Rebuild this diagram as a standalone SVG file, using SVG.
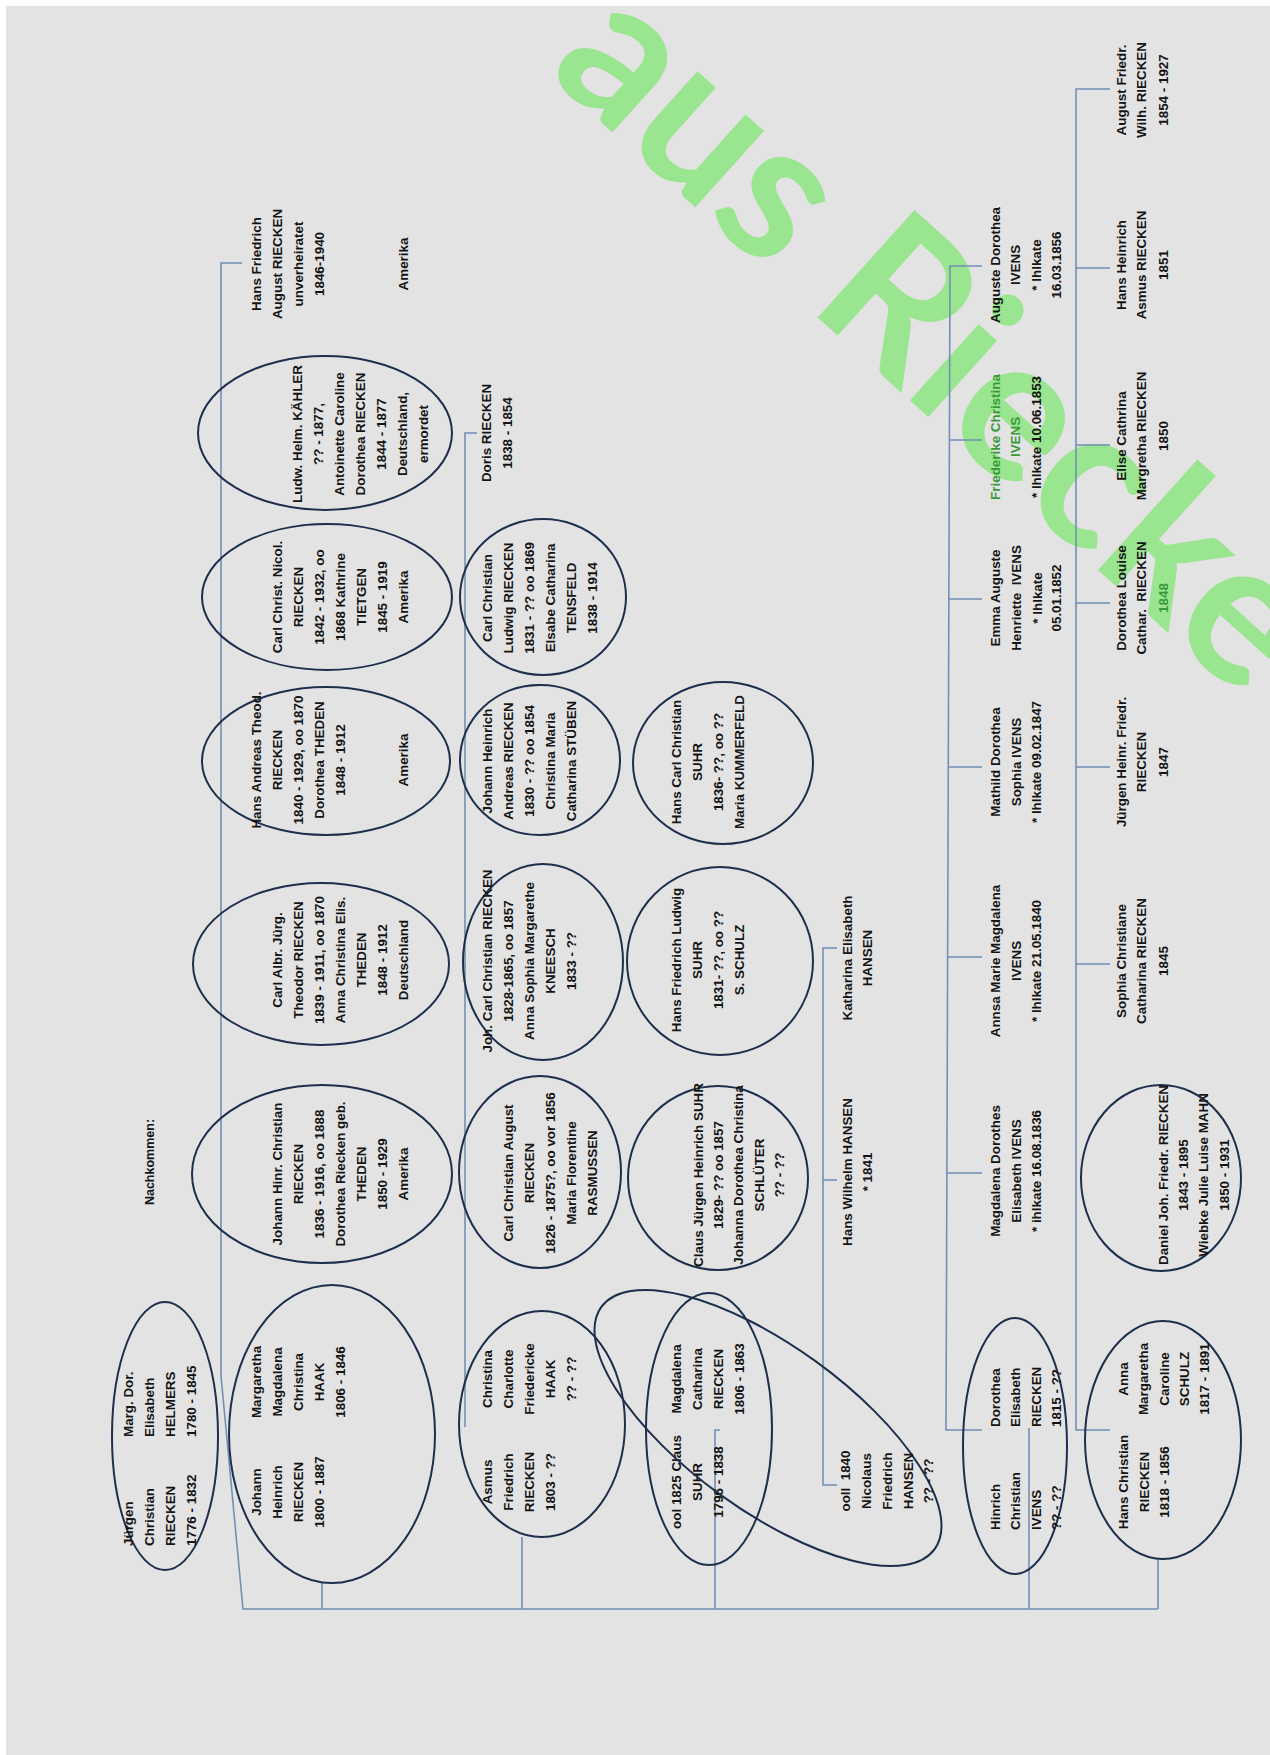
<svg xmlns="http://www.w3.org/2000/svg" width="1270" height="1755" viewBox="0 0 1270 1755">
<style>
.t{font-family:"Liberation Sans",Arial,sans-serif;font-weight:bold;font-size:13.4px;fill:#141414;text-anchor:middle}
.s{text-anchor:start}
.e{fill:none;stroke:#1d2f4d;stroke-width:2}
.c{fill:none;stroke:#7290b5;stroke-width:1.6}
.gr{fill:#3a9a3a}
.wm{font-family:Lato,"Open Sans",sans-serif;font-weight:bold;font-size:200px;fill:#9ae58f}
</style>
<rect x="0" y="0" width="1270" height="1755" fill="#ffffff"/>
<rect x="6" y="6" width="1264" height="1749" fill="#e3e3e3"/>
<text class="wm" transform="translate(545,72) rotate(42)">aus Riecke</text>

<g id="connectors">
<path class="c" d="M242,263 H221 V1376 L243,1609 H1158"/>
<path class="c" d="M322,1583 V1609"/>
<path class="c" d="M477,433 H465 V1427"/>
<path class="c" d="M522,1537 V1609"/>
<path class="c" d="M720,1430 H715 V1609"/>
<path class="c" d="M837,948 H823 V1485 H837 M823,1180 H837"/>
<path class="c" d="M982,266 H950 L946,1430 H982 M949,440 H982 M948,599 H982 M948,767 H982 M947,957 H982 M947,1173 H982"/>
<path class="c" d="M1029,1428 V1609"/>
<path class="c" d="M1110,89 H1076 V1430 H1110 M1076,268 H1110 M1076,445 H1110 M1076,603 H1110 M1076,767 H1110 M1076,964 H1110"/>
<path class="c" d="M1158,1558 V1609"/>
</g>

<g id="title"><text class="t" style="font-size:12.5px" transform="translate(0,1162) rotate(-90)"><tspan x="0" y="154">Nachkommen:</tspan></text></g>

<g id="n-juergen">
<ellipse class="e" cx="165" cy="1436" rx="53" ry="134"/>
<text class="t s" transform="translate(0,1546) rotate(-90)"><tspan x="0" y="133">Jürgen</tspan><tspan x="0" y="154">Christian</tspan><tspan x="0" y="175">RIECKEN</tspan><tspan x="0" y="196">1776 - 1832</tspan></text>
<text class="t s" transform="translate(0,1437) rotate(-90)"><tspan x="0" y="133">Marg. Dor.</tspan><tspan x="0" y="154">Elisabeth</tspan><tspan x="0" y="175">HELMERS</tspan><tspan x="0" y="196">1780 - 1845</tspan></text>
</g>

<g id="n-johann-heinrich">
<ellipse class="e" cx="332" cy="1434" rx="103" ry="149"/>
<text class="t" transform="translate(0,1492) rotate(-90)"><tspan x="0" y="261">Johann</tspan><tspan x="0" y="282">Heinrich</tspan><tspan x="0" y="303">RIECKEN</tspan><tspan x="0" y="324">1800 - 1887</tspan></text>
<text class="t" transform="translate(0,1382) rotate(-90)"><tspan x="0" y="261">Margaretha</tspan><tspan x="0" y="282">Magdalena</tspan><tspan x="0" y="303">Christina</tspan><tspan x="0" y="324">HAAK</tspan><tspan x="0" y="345">1806 - 1846</tspan></text>
</g>

<g id="n-hans-friedrich-august">
<text class="t" transform="translate(0,264) rotate(-90)"><tspan x="0" y="261">Hans Friedrich</tspan><tspan x="0" y="282">August RIECKEN</tspan><tspan x="0" y="303">unverheiratet</tspan><tspan x="0" y="324">1846-1940</tspan><tspan x="0" y="408">Amerika</tspan></text>
</g>

<g id="n-ludw-kaehler">
<ellipse class="e" cx="325" cy="433" rx="127" ry="77"/>
<text class="t" transform="translate(0,434) rotate(-90)"><tspan x="0" y="302">Ludw. Helm. KÄHLER</tspan><tspan x="0" y="323">?? - 1877,</tspan><tspan x="0" y="344">Antoinette Caroline</tspan><tspan x="0" y="365">Dorothea RIECKEN</tspan><tspan x="0" y="386">1844 - 1877</tspan><tspan x="0" y="407">Deutschland,</tspan><tspan x="0" y="428">ermordet</tspan></text>
</g>

<g id="n-carl-christ-nicol">
<ellipse class="e" cx="327" cy="597" rx="125" ry="73"/>
<text class="t" transform="translate(0,597) rotate(-90)"><tspan x="0" y="282">Carl Christ. Nicol.</tspan><tspan x="0" y="303">RIECKEN</tspan><tspan x="0" y="324">1842 - 1932, oo</tspan><tspan x="0" y="345">1868 Kathrine</tspan><tspan x="0" y="366">TIETGEN</tspan><tspan x="0" y="387">1845 - 1919</tspan><tspan x="0" y="408">Amerika</tspan></text>
</g>

<g id="n-hans-andreas">
<ellipse class="e" cx="326" cy="761" rx="124" ry="74"/>
<text class="t" transform="translate(0,760) rotate(-90)"><tspan x="0" y="261">Hans Andreas Theod.</tspan><tspan x="0" y="282">RIECKEN</tspan><tspan x="0" y="303">1840 - 1929, oo 1870</tspan><tspan x="0" y="324">Dorothea THEDEN</tspan><tspan x="0" y="345">1848 - 1912</tspan><tspan x="0" y="408">Amerika</tspan></text>
</g>

<g id="n-carl-albr">
<ellipse class="e" cx="321" cy="964" rx="128" ry="81"/>
<text class="t" transform="translate(0,960) rotate(-90)"><tspan x="0" y="282">Carl Albr. Jürg.</tspan><tspan x="0" y="303">Theodor RIECKEN</tspan><tspan x="0" y="324">1839 - 1911, oo 1870</tspan><tspan x="0" y="345">Anna Christina Elis.</tspan><tspan x="0" y="366">THEDEN</tspan><tspan x="0" y="387">1848 - 1912</tspan><tspan x="0" y="408">Deutschland</tspan></text>
</g>

<g id="n-johann-hinr-christian">
<ellipse class="e" cx="322" cy="1174" rx="130" ry="89"/>
<text class="t" transform="translate(0,1174) rotate(-90)"><tspan x="0" y="282">Johann Hinr. Christian</tspan><tspan x="0" y="303">RIECKEN</tspan><tspan x="0" y="324">1836 - 1916, oo 1888</tspan><tspan x="0" y="345">Dorothea Riecken geb.</tspan><tspan x="0" y="366">THEDEN</tspan><tspan x="0" y="387">1850 - 1929</tspan><tspan x="0" y="408">Amerika</tspan></text>
</g>

<g id="n-asmus">
<ellipse class="e" cx="542" cy="1424" rx="83" ry="113"/>
<text class="t" transform="translate(0,1482) rotate(-90)"><tspan x="0" y="492">Asmus</tspan><tspan x="0" y="513">Friedrich</tspan><tspan x="0" y="534">RIECKEN</tspan><tspan x="0" y="555">1803 - ??</tspan></text>
<text class="t" transform="translate(0,1379) rotate(-90)"><tspan x="0" y="492">Christina</tspan><tspan x="0" y="513">Charlotte</tspan><tspan x="0" y="534">Friedericke</tspan><tspan x="0" y="555">HAAK</tspan><tspan x="0" y="576">?? - ??</tspan></text>
</g>

<g id="n-doris">
<text class="t" transform="translate(0,433) rotate(-90)"><tspan x="0" y="491">Doris RIECKEN</tspan><tspan x="0" y="512">1838 - 1854</tspan></text>
</g>

<g id="n-carl-christian-ludwig">
<ellipse class="e" cx="543" cy="597" rx="83" ry="78"/>
<text class="t" transform="translate(0,598) rotate(-90)"><tspan x="0" y="492">Carl Christian</tspan><tspan x="0" y="513">Ludwig RIECKEN</tspan><tspan x="0" y="534">1831 - ?? oo 1869</tspan><tspan x="0" y="555">Elsabe Catharina</tspan><tspan x="0" y="576">TENSFELD</tspan><tspan x="0" y="597">1838 - 1914</tspan></text>
</g>

<g id="n-johann-heinrich-andreas">
<ellipse class="e" cx="540" cy="760" rx="80" ry="75"/>
<text class="t" transform="translate(0,761) rotate(-90)"><tspan x="0" y="492">Johann Heinrich</tspan><tspan x="0" y="513">Andreas RIECKEN</tspan><tspan x="0" y="534">1830 - ?? oo 1854</tspan><tspan x="0" y="555">Christina Maria</tspan><tspan x="0" y="576">Catharina STÜBEN</tspan></text>
</g>

<g id="n-joh-carl-christian">
<ellipse class="e" cx="543" cy="962" rx="80" ry="98"/>
<text class="t" transform="translate(0,961) rotate(-90)"><tspan x="0" y="492">Joh. Carl Christian RIECKEN</tspan><tspan x="0" y="513">1828-1865, oo 1857</tspan><tspan x="0" y="534">Anna Sophia Margarethe</tspan><tspan x="0" y="555">KNEESCH</tspan><tspan x="0" y="576">1833 - ??</tspan></text>
</g>

<g id="n-carl-christian-august">
<ellipse class="e" cx="540" cy="1172" rx="81" ry="96"/>
<text class="t" transform="translate(0,1173) rotate(-90)"><tspan x="0" y="513">Carl Christian August</tspan><tspan x="0" y="534">RIECKEN</tspan><tspan x="0" y="555">1826 - 1875?, oo vor 1856</tspan><tspan x="0" y="576">Maria Florentine</tspan><tspan x="0" y="597">RASMUSSEN</tspan></text>
</g>

<g id="n-magdalena-catharina">
<ellipse class="e" cx="709" cy="1429" rx="63" ry="136"/>
<text class="t" transform="translate(0,1482) rotate(-90)"><tspan x="0" y="681">ool 1825 Claus</tspan><tspan x="0" y="702">SUHR</tspan><tspan x="0" y="723">1796 - 1838</tspan></text>
<text class="t" transform="translate(0,1379) rotate(-90)"><tspan x="0" y="681">Magdalena</tspan><tspan x="0" y="702">Catharina</tspan><tspan x="0" y="723">RIECKEN</tspan><tspan x="0" y="744">1806 - 1863</tspan></text>
</g>

<g id="n-hansen-loop">
<ellipse class="e" cx="768" cy="1428" rx="206" ry="82" transform="rotate(36 768 1428)"/>
<text class="t" transform="translate(0,1481) rotate(-90)"><tspan x="0" y="850">ooll&#160; 1840</tspan><tspan x="0" y="871">Nicolaus</tspan><tspan x="0" y="892">Friedrich</tspan><tspan x="0" y="913">HANSEN</tspan><tspan x="0" y="933">?? - ??</tspan></text>
</g>

<g id="n-claus-juergen-suhr">
<ellipse class="e" cx="718" cy="1178" rx="90" ry="92"/>
<text class="t" transform="translate(0,1175) rotate(-90)"><tspan x="0" y="703">Claus Jürgen Heinrich SUHR</tspan><tspan x="0" y="723">1829- ?? oo 1857</tspan><tspan x="0" y="743">Johanna Dorothea Christina</tspan><tspan x="0" y="764">SCHLÜTER</tspan><tspan x="0" y="784">?? - ??</tspan></text>
</g>

<g id="n-hans-friedrich-ludwig-suhr">
<ellipse class="e" cx="720" cy="961" rx="93" ry="94"/>
<text class="t" transform="translate(0,960) rotate(-90)"><tspan x="0" y="681">Hans Friedrich Ludwig</tspan><tspan x="0" y="702">SUHR</tspan><tspan x="0" y="723">1831- ??, oo ??</tspan><tspan x="0" y="744">S. SCHULZ</tspan></text>
</g>

<g id="n-hans-carl-christian-suhr">
<ellipse class="e" cx="723" cy="763" rx="90" ry="81"/>
<text class="t" transform="translate(0,762) rotate(-90)"><tspan x="0" y="681">Hans Carl Christian</tspan><tspan x="0" y="702">SUHR</tspan><tspan x="0" y="723">1836- ??, oo ??</tspan><tspan x="0" y="744">Maria KUMMERFELD</tspan></text>
</g>

<g id="n-katharina-hansen">
<text class="t" transform="translate(0,958) rotate(-90)"><tspan x="0" y="852">Katharina Elisabeth</tspan><tspan x="0" y="872">HANSEN</tspan></text>
</g>

<g id="n-hans-wilhelm-hansen">
<text class="t" transform="translate(0,1172) rotate(-90)"><tspan x="0" y="852">Hans Wilhelm HANSEN</tspan><tspan x="0" y="872">* 1841</tspan></text>
</g>

<g id="n-hinrich-ivens">
<ellipse class="e" cx="1015" cy="1446" rx="52" ry="128"/>
<text class="t s" transform="translate(0,1530) rotate(-90)"><tspan x="0" y="1000">Hinrich</tspan><tspan x="0" y="1020">Christian</tspan><tspan x="0" y="1041">IVENS</tspan><tspan x="0" y="1061">?? - ??</tspan></text>
<text class="t s" transform="translate(0,1427) rotate(-90)"><tspan x="0" y="1000">Dorothea</tspan><tspan x="0" y="1020">Elisabeth</tspan><tspan x="0" y="1041">RIECKEN</tspan><tspan x="0" y="1061">1815 - ??</tspan></text>
</g>

<g id="n-auguste-dorothea">
<text class="t" transform="translate(0,265) rotate(-90)"><tspan x="0" y="1000">Auguste Dorothea</tspan><tspan x="0" y="1020">IVENS</tspan><tspan x="0" y="1041">* Ihlkate</tspan><tspan x="0" y="1061">16.03.1856</tspan></text>
</g>
<g id="n-friederike">
<text class="t" transform="translate(0,437) rotate(-90)"><tspan class="gr" x="0" y="1000">Friederike Christina</tspan><tspan class="gr" x="0" y="1020">IVENS</tspan><tspan x="0" y="1041">* Ihlkate 10.06.1853</tspan></text>
</g>
<g id="n-emma-auguste">
<text class="t" transform="translate(0,598) rotate(-90)"><tspan x="0" y="1000">Emma Auguste</tspan><tspan x="0" y="1021">Henriette&#160; IVENS</tspan><tspan x="0" y="1042">* Ihlkate</tspan><tspan x="0" y="1061">05.01.1852</tspan></text>
</g>
<g id="n-mathild">
<text class="t" transform="translate(0,762) rotate(-90)"><tspan x="0" y="1000">Mathild Dorothea</tspan><tspan x="0" y="1021">Sophia IVENS</tspan><tspan x="0" y="1041">* Ihlkate 09.02.1847</tspan></text>
</g>
<g id="n-annsa">
<text class="t" transform="translate(0,961) rotate(-90)"><tspan x="0" y="1000">Annsa Marie Magdalena</tspan><tspan x="0" y="1021">IVENS</tspan><tspan x="0" y="1041">* Ihlkate 21.05.1840</tspan></text>
</g>
<g id="n-magdalena-dorothes">
<text class="t" transform="translate(0,1171) rotate(-90)"><tspan x="0" y="1000">Magdalena Dorothes</tspan><tspan x="0" y="1021">Elisabeth IVENS</tspan><tspan x="0" y="1041">* ihlkate 16.08.1836</tspan></text>
</g>

<g id="n-hans-christian">
<ellipse class="e" cx="1163" cy="1440" rx="78" ry="119"/>
<text class="t" transform="translate(0,1482) rotate(-90)"><tspan x="0" y="1128">Hans Christian</tspan><tspan x="0" y="1149">RIECKEN</tspan><tspan x="0" y="1169">1818 - 1856</tspan></text>
<text class="t" transform="translate(0,1379) rotate(-90)"><tspan x="0" y="1128">Anna</tspan><tspan x="0" y="1148">Margaretha</tspan><tspan x="0" y="1169">Caroline</tspan><tspan x="0" y="1189">SCHULZ</tspan><tspan x="0" y="1209">1817 - 1891</tspan></text>
</g>

<g id="n-daniel">
<ellipse class="e" cx="1161" cy="1178" rx="80" ry="93"/>
<text class="t" transform="translate(0,1175) rotate(-90)"><tspan x="0" y="1168">Daniel Joh. Friedr. RIECKEN</tspan><tspan x="0" y="1188">1843 - 1895</tspan><tspan x="0" y="1208">Wiebke Julie Luise MAHN</tspan><tspan x="0" y="1229">1850 - 1931</tspan></text>
</g>

<g id="n-august-friedr">
<text class="t" transform="translate(0,90) rotate(-90)"><tspan x="0" y="1126">August Friedr.</tspan><tspan x="0" y="1146">Wilh. RIECKEN</tspan><tspan x="0" y="1168">1854 - 1927</tspan></text>
</g>
<g id="n-hans-heinrich-asmus">
<text class="t" transform="translate(0,265) rotate(-90)"><tspan x="0" y="1126">Hans Heinrich</tspan><tspan x="0" y="1146">Asmus RIECKEN</tspan><tspan x="0" y="1168">1851</tspan></text>
</g>
<g id="n-elise-cathrina">
<text class="t" transform="translate(0,436) rotate(-90)"><tspan x="0" y="1126">Elise Cathrina</tspan><tspan x="0" y="1146">Margretha RIECKEN</tspan><tspan x="0" y="1168">1850</tspan></text>
</g>
<g id="n-dorothea-louise">
<text class="t" transform="translate(0,598) rotate(-90)"><tspan x="0" y="1126">Dorothea Louise</tspan><tspan x="0" y="1146">Cathar.&#160; RIECKEN</tspan><tspan class="gr" x="0" y="1168">1848</tspan></text>
</g>
<g id="n-juergen-heinr-friedr">
<text class="t" transform="translate(0,762) rotate(-90)"><tspan x="0" y="1126">Jürgen Heinr. Friedr.</tspan><tspan x="0" y="1146">RIECKEN</tspan><tspan x="0" y="1168">1847</tspan></text>
</g>
<g id="n-sophia-christiane">
<text class="t" transform="translate(0,961) rotate(-90)"><tspan x="0" y="1126">Sophia Christiane</tspan><tspan x="0" y="1146">Catharina RIECKEN</tspan><tspan x="0" y="1168">1845</tspan></text>
</g>
</svg>
